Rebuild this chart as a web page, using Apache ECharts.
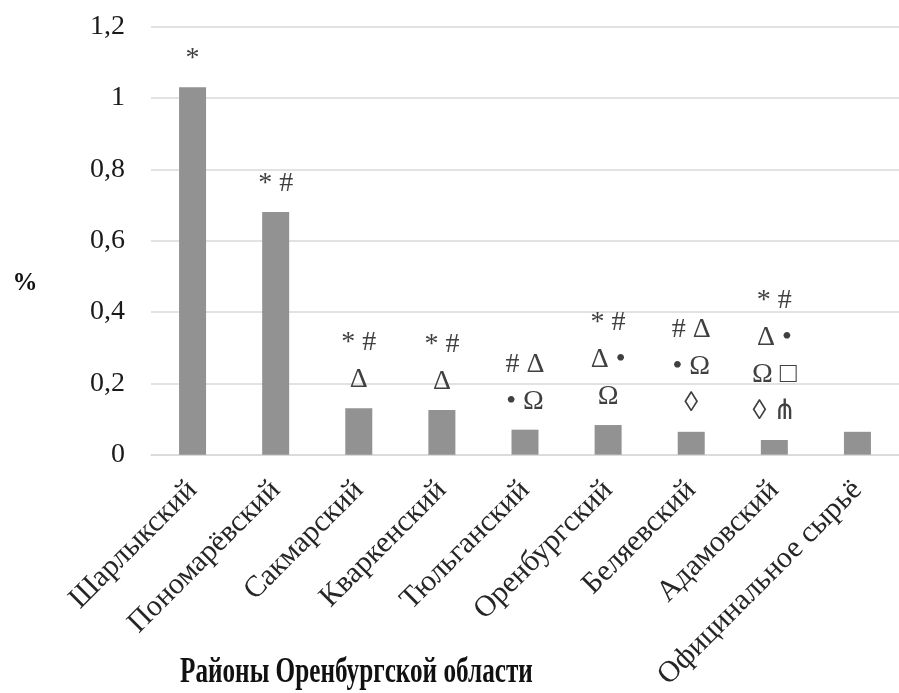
<!DOCTYPE html>
<html>
<head>
<meta charset="utf-8">
<script src="https://cdn.jsdelivr.net/npm/echarts@6/dist/echarts.min.js"></script>
<style>
  html, body { margin: 0; padding: 0; background: #ffffff; }
  #chart { width: 899px; height: 693px; }
</style>
</head>
<body>
<div id="chart"></div>
<script>
// Districts of the Orenburg region and the reference raw material
const districts = [
  'Шарлыкский', 'Пономарёвский', 'Сакмарский', 'Кваркенский', 'Тюльганский',
  'Оренбургский', 'Беляевский', 'Адамовский', 'Официнальное сырьё'
];
// Content, %
const values = [1.03, 0.68, 0.13, 0.125, 0.07, 0.083, 0.064, 0.041, 0.064];
// Significance marks printed above each bar (one entry per line)
const marks = [
  ['*'],
  ['* #'],
  ['* #', 'Δ'],
  ['* #', 'Δ'],
  ['# Δ', '• Ω'],
  ['* #', 'Δ •', 'Ω'],
  ['# Δ', '• Ω', '◊'],
  ['* #', 'Δ •', 'Ω □', '◊ ⋔'],
  []
];
const yTicks = { min: 0, max: 1.2, step: 0.2 };
const xTitle = 'Районы Оренбургской области';
const yTitle = '%';

const serif = '"Liberation Serif", "Times New Roman", "DejaVu Serif", serif';
const chart = echarts.init(document.getElementById('chart'), null, { renderer: 'canvas' });

chart.setOption({
  backgroundColor: '#ffffff',
  animation: false,
  graphic: [
    {
      // x-axis title, narrow bold serif
      type: 'text',
      x: 180,
      y: 673,
      scaleX: 0.72,
      style: {
        text: xTitle,
        font: 'bold 35px ' + serif,
        fill: '#111111',
        textVerticalAlign: 'middle'
      }
    },
    {
      // y-axis unit
      type: 'text',
      x: 25,
      y: 284,
      style: {
        text: yTitle,
        font: 'bold 25px ' + serif,
        fill: '#111111',
        textAlign: 'center',
        textVerticalAlign: 'middle'
      }
    }
  ],
  grid: { left: 151, right: -6, top: 26.6, bottom: 238, containLabel: false },
  xAxis: {
    type: 'category',
    data: districts,
    axisLine: { show: true, lineStyle: { color: '#d9d9d9', width: 1.5 } },
    axisTick: { show: false },
    axisLabel: {
      interval: 0,
      rotate: 45,
      margin: 31,
      fontFamily: serif,
      fontSize: 30,
      color: '#262626'
    }
  },
  yAxis: {
    type: 'value',
    min: yTicks.min,
    max: yTicks.max,
    interval: yTicks.step,
    axisLine: { show: false },
    axisTick: { show: false },
    splitLine: { show: true, lineStyle: { color: '#d9d9d9', width: 1.5 } },
    axisLabel: {
      margin: 26,
      fontFamily: serif,
      fontSize: 28,
      color: '#1a1a1a',
      formatter: v => String(+v.toFixed(1)).replace('.', ',')
    }
  },
  series: [{
    type: 'bar',
    data: values,
    barWidth: 27,
    itemStyle: { color: '#929292' },
    label: {
      show: true,
      position: 'top',
      distance: 10,
      fontFamily: serif,
      fontSize: 28,
      lineHeight: 37,
      color: '#404040',
      formatter: p => marks[p.dataIndex].join('\n')
    }
  }]
});
</script>
</body>
</html>
